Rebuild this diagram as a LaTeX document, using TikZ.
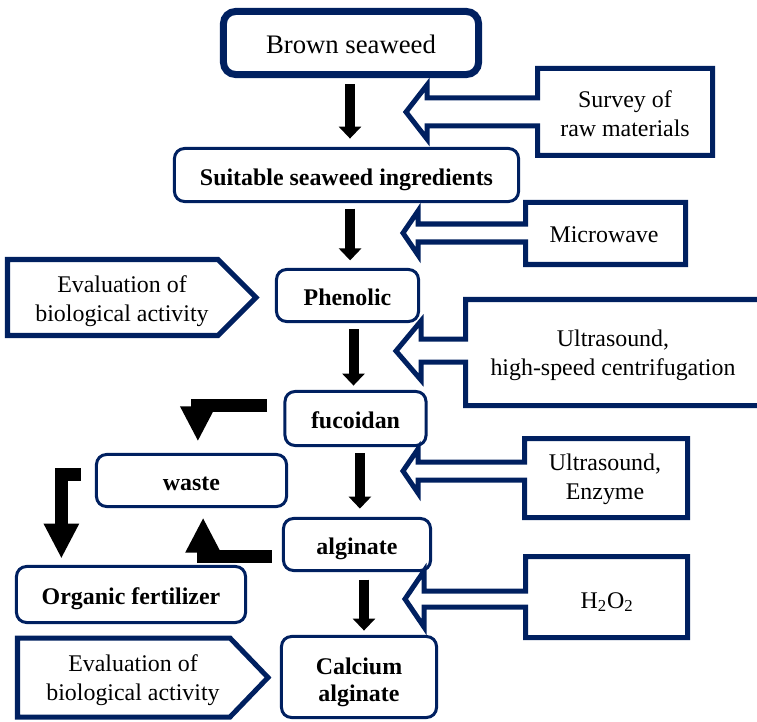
\documentclass[tikz,border=0pt]{standalone}
\usepackage{fontspec}
\setmainfont{Liberation Serif}
\usetikzlibrary{arrows.meta}
\definecolor{navy}{RGB}{0,32,96}

\tikzset{
  procbox/.style={draw=navy, line width=0.75mm, rounded corners=2.5mm, inner sep=0pt,
    text height=5.2mm, text depth=0mm, align=center, font=\fontsize{17}{20}\selectfont\bfseries},
  note/.style={inner sep=0pt, align=center, font=\fontsize{17}{20.5}\selectfont},
  callout/.style={draw=navy, line width=1.25mm, line join=miter},
  flow/.style={line width=2.5mm, -{Triangle[width=5.5mm,length=3mm]}},
  elbow/.style={line width=3.25mm, -{Triangle[width=8.25mm,length=8.75mm]}},
}

\begin{document}
\begin{tikzpicture}[x=0.025cm, y=-0.025cm]
		\useasboundingbox (0,0) rectangle (757,722);
		%%%%% main chain %%%%%
		\node[procbox, line width=1.75mm, rounded corners=3mm, minimum width=63.75mm, minimum height=15.75mm,
		  font=\fontsize{19}{23}\selectfont] (brown) at (351,43) {Brown seaweed};
		\node[procbox, minimum width=86mm, minimum height=13.25mm] (suitable) at (346.5,175) {Suitable seaweed ingredients};
		\node[procbox, minimum width=35.5mm, minimum height=13mm] (phenolic) at (347.5,295.5) {Phenolic};
		\node[procbox, minimum width=35.25mm, minimum height=13.5mm] (fucoidan) at (355.5,418.5) {fucoidan};
		\node[procbox, minimum width=36.75mm, minimum height=13mm] (alginate) at (357,544.5) {alginate};
		\node[procbox, minimum width=38.75mm, minimum height=20.25mm, text height=12.2mm,
		  font=\fontsize{17}{19}\selectfont\bfseries] (calcium) at (359,677) {Calcium\\alginate};
		
		%%%%% side products %%%%%
		\node[procbox, minimum width=47.5mm, minimum height=13mm] (waste) at (191.5,480.5) {waste};
		\node[procbox, minimum width=57.25mm, minimum height=14mm] (organic) at (131,594.5) {Organic fertilizer};
		
		%%%%% callouts, right side %%%%%
		\draw[callout] (537.5,98) -- (427,98) -- (427,85) -- (406,112) -- (427,139) -- (427,126) -- (537.5,126)
		  -- (537.5,155.5) -- (712.5,155.5) -- (712.5,68.5) -- (537.5,68.5) -- cycle;
		\node[note] (survey) at (625,114) {Survey of\\raw materials};
		
		\draw[callout] (525.5,224) -- (418,224) -- (418,211) -- (403,233) -- (418,255) -- (418,242) -- (525.5,242)
		  -- (525.5,264.5) -- (685.5,264.5) -- (685.5,202.5) -- (525.5,202.5) -- cycle;
		\node[note] (microwave) at (604,235) {Microwave};
		
		\draw[callout] (465.5,339) -- (421,339) -- (421,321) -- (396,351) -- (421,380) -- (421,362) -- (465.5,362)
		  -- (465.5,405.5) -- (790,405.5) -- (790,299.5) -- (465.5,299.5) -- cycle;
		\node[note] (centrifuge) at (613,355) {Ultrasound,\\high-speed centrifugation};
		
		\draw[callout] (524.5,462) -- (418,462) -- (418,449) -- (403,471) -- (418,493) -- (418,480) -- (524.5,480)
		  -- (524.5,517.5) -- (687.5,517.5) -- (687.5,438.5) -- (524.5,438.5) -- cycle;
		\node[note] (enzyme) at (605,479) {Ultrasound,\\Enzyme};
		
		\draw[callout] (525.5,591) -- (424,591) -- (424,571) -- (405,599) -- (424,627) -- (424,607) -- (525.5,607)
		  -- (525.5,637.5) -- (687.5,637.5) -- (687.5,556.5) -- (525.5,556.5) -- cycle;
		\node[note] (peroxide) at (607,602) {H\textsubscript{2}O\textsubscript{2}};
		
		%%%%% callouts, left side %%%%%
		\draw[callout] (7.5,259.5) -- (218,259.5) -- (256,297.5) -- (218,335.5) -- (7.5,335.5) -- cycle;
		\node[note] (evaltop) at (122,301) {Evaluation of\\biological activity};
		
		\draw[callout] (17.5,638) -- (230,638) -- (268,677.5) -- (230,717) -- (17.5,717) -- cycle;
		\node[note] (evalbottom) at (133,680) {Evaluation of\\biological activity};
		
		%%%%% arrows %%%%%
		\draw[flow, shorten <=1.6mm, shorten >=2.1mm] ([xshift=-0.25mm]brown.south) -- ([xshift=-0.25mm]brown.south |- suitable.north);
		\draw[flow, shorten <=1.4mm, shorten >=1.9mm] ([xshift=0.9mm]suitable.south) -- ([xshift=0.9mm]suitable.south |- phenolic.north);
		\draw[flow, shorten <=1.6mm, shorten >=1.1mm] ([xshift=1.5mm]phenolic.south) -- ([xshift=1.5mm]phenolic.south |- fucoidan.north);
		\draw[flow, shorten <=1.6mm, shorten >=2.1mm] ([xshift=1.1mm]fucoidan.south) -- ([xshift=1.1mm]fucoidan.south |- alginate.north);
		\draw[flow, shorten <=1.9mm, shorten >=1.1mm] ([xshift=1.75mm]alginate.south) -- ([xshift=1.75mm]alginate.south |- calcium.north);
		
		\draw[elbow, shorten <=4.1mm, shorten >=2.9mm] ([yshift=3.25mm]fucoidan.west) -| ([xshift=1.6mm]waste.north);
		\draw[elbow, shorten <=2.6mm, shorten >=2.4mm] ([yshift=-2.9mm]alginate.west) -| ([xshift=2.9mm]waste.south);
		\draw[elbow, shorten <=3.6mm, shorten >=1.6mm] ([yshift=1.6mm]waste.west) -| ([xshift=-17.4mm]organic.north);
	\end{tikzpicture}
\end{document}
